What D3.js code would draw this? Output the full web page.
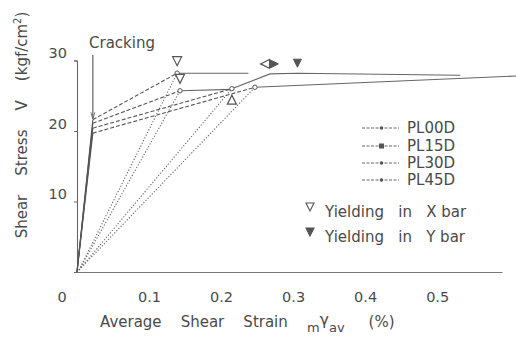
<!DOCTYPE html>
<html>
<head>
<meta charset="utf-8">
<script src="https://cdn.jsdelivr.net/npm/d3@7"></script>
<style>
  body { margin: 0; background: #fff; }
  svg text { font-family: "DejaVu Sans", sans-serif; fill: #4a4a4a; white-space: pre; }
</style>
</head>
<body>
<div class="graph-container"></div>
<script>
// values (strain in %, stress in kgf/cm2)
var seriesNames = ["PL00D", "PL15D", "PL30D", "PL45D"];
var strainPL00D = [0, 0.022, 0.139, 0.238];
var stressPL00D = [0, 21.6, 28.2, 28.2];
var strainPL15D = [0, 0.022, 0.143, 0.215];
var stressPL15D = [0, 21.1, 25.7, 25.9];
var strainPL30D = [0, 0.022, 0.215, 0.268, 0.306, 0.532];
var stressPL30D = [0, 20.4, 26.0, 28.1, 28.2, 27.9];
var strainPL45D = [0, 0.022, 0.247, 0.61];
var stressPL45D = [0, 19.7, 26.2, 27.8];

// yield points (secant lines from origin are drawn to these)
var yieldStrain = [0.139, 0.143, 0.215, 0.247];
var yieldStress = [28.2, 25.7, 26.0, 26.2];

// yielding symbols: X bar (open) and Y bar (filled)
var xBarStrain = [0.139, 0.143, 0.215, 0.261];
var xBarStress = [28.2, 25.7, 26.0, 28.1];
var xBarDir = ["down", "down", "up", "left"];
var yBarStrain = [0.274, 0.306];
var yBarStress = [28.1, 28.2];

var crackStrain = 0.022;
var xTicks = [0.1, 0.2, 0.3, 0.4, 0.5];
var yTicks = [10, 20, 30];

var W = 516, H = 338;

var svg = d3.select(".graph-container").append("svg")
    .attr("width", W)
    .attr("height", H);

var x = d3.scaleLinear().domain([0, 0.59]).range([77, 502]);
var y = d3.scaleLinear().domain([0, 30]).range([272, 60.5]);

svg.append("defs").append("marker")
    .attr("id", "arrow")
    .attr("viewBox", "0 0 10 10")
    .attr("refX", 9).attr("refY", 5)
    .attr("markerWidth", 6).attr("markerHeight", 9)
    .attr("orient", "auto")
  .append("path")
    .attr("d", "M0,2 L10,5 L0,8")
    .attr("fill", "none")
    .attr("stroke", "#555")
    .attr("stroke-width", 1.2);

// AXES
var yAxis = d3.axisLeft(y).tickValues(yTicks).tickSize(3).tickFormat(d => d);
var yAxisGroup = svg.append("g")
    .attr("transform", "translate(" + x(0) + ",0)")
    .call(yAxis);
yAxisGroup.select(".domain").attr("stroke", "#666").attr("stroke-width", 1.1);
yAxisGroup.selectAll("line").attr("stroke", "#666");
yAxisGroup.selectAll("text")
    .attr("x", -10).attr("dy", "-0.2em")
    .style("font-size", "14.5px")
    .style("fill", "#4a4a4a");

var xAxis = d3.axisBottom(x).tickValues(xTicks).tickSize(0).tickFormat(d3.format(".1f"));
var xAxisGroup = svg.append("g")
    .attr("transform", "translate(0," + y(0) + ")")
    .call(xAxis);
xAxisGroup.select(".domain").attr("stroke", "#777").attr("stroke-width", 1);
xAxisGroup.selectAll("text")
    .attr("y", 20)
    .style("font-size", "14.5px")
    .style("fill", "#4a4a4a");
xAxisGroup.attr("font-family", null);
yAxisGroup.attr("font-family", null);

svg.append("text")
    .attr("x", 62).attr("y", y(0) + 30)
    .attr("text-anchor", "middle")
    .style("font-size", "14.5px")
    .text("0");

// axis titles
var yTitle = svg.append("text")
    .attr("transform", "translate(27," + 125 + ") rotate(-90)")
    .attr("text-anchor", "middle")
    .style("font-size", "15px");
yTitle.append("tspan").text("Shear    Stress    V    (kgf/cm");
yTitle.append("tspan").attr("dy", -6).style("font-size", "10px").text("2");
yTitle.append("tspan").attr("dy", 6).text(")");

var xTitle = svg.append("text")
    .attr("x", 100).attr("y", 327)
    .style("font-size", "15px");
xTitle.append("tspan").text("Average    Shear    Strain    ");
xTitle.append("tspan").attr("dy", 5).style("font-size", "13px").text("m");
xTitle.append("tspan").attr("dy", -7).style("font-size", "16px").text("γ");
xTitle.append("tspan").attr("dy", 7).style("font-size", "13px").text("av");
xTitle.append("tspan").attr("dy", -5).text("     (%)");

// CURVES
var series = [
    { name: seriesNames[0], strain: strainPL00D, stress: stressPL00D },
    { name: seriesNames[1], strain: strainPL15D, stress: stressPL15D },
    { name: seriesNames[2], strain: strainPL30D, stress: stressPL30D },
    { name: seriesNames[3], strain: strainPL45D, stress: stressPL45D }
];

var line = d3.line().x(d => x(d[0])).y(d => y(d[1]));

// secant lines from origin to yield point (dotted)
svg.append("g").selectAll("line")
    .data(yieldStrain.map((s, i) => [s, yieldStress[i]]))
    .enter().append("line")
    .attr("x1", x(0) + 2).attr("y1", y(0) - 2)
    .attr("x2", d => x(d[0])).attr("y2", d => y(d[1]))
    .attr("stroke", "#666")
    .attr("stroke-width", 1.1)
    .attr("stroke-dasharray", "1.2,1.8");

series.forEach(s => {
    var pts = s.strain.map((v, i) => [v, s.stress[i]]);
    // elastic part: solid
    svg.append("path")
        .attr("d", line(pts.slice(0, 2)))
        .attr("fill", "none")
        .attr("stroke", "#555")
        .attr("stroke-width", 1.1);
    // cracking to yield: dashed
    svg.append("path")
        .attr("d", line(pts.slice(1, 3)))
        .attr("fill", "none")
        .attr("stroke", "#555")
        .attr("stroke-width", 1.1)
        .attr("stroke-dasharray", "4,2");
    // after yield
    svg.append("path")
        .attr("d", line(pts.slice(2)))
        .attr("fill", "none")
        .attr("stroke", "#666")
        .attr("stroke-width", 1.1);
    svg.append("g").selectAll("circle")
        .data(pts.slice(2, 3))
        .enter().append("circle")
        .attr("cx", d => x(d[0])).attr("cy", d => y(d[1]))
        .attr("r", 2.2)
        .attr("fill", "#fff")
        .attr("stroke", "#555")
        .attr("stroke-width", 1);
});

// yielding symbols
function tri(dir, cx, cy, s) {
    if (dir == "down") return "M" + (cx - s) + "," + (cy - s) + "L" + (cx + s) + "," + (cy - s) + "L" + cx + "," + (cy + s) + "Z";
    if (dir == "up") return "M" + (cx - s) + "," + (cy + s) + "L" + (cx + s) + "," + (cy + s) + "L" + cx + "," + (cy - s) + "Z";
    if (dir == "left") return "M" + (cx + s) + "," + (cy - s) + "L" + (cx + s) + "," + (cy + s) + "L" + (cx - s) + "," + cy + "Z";
    return "M" + (cx - s) + "," + (cy - s) + "L" + (cx - s) + "," + (cy + s) + "L" + (cx + s) + "," + cy + "Z";
}
var xOff = { down: [0, -12], up: [0, 11], left: [0, -10] };
svg.append("g").selectAll("path")
    .data(xBarStrain.map((s, i) => [s, xBarStress[i], xBarDir[i]]))
    .enter().append("path")
    .attr("d", d => tri(d[2], x(d[0]) + xOff[d[2]][0], y(d[1]) + xOff[d[2]][1], 4.5))
    .attr("fill", "#fff")
    .attr("stroke", "#555")
    .attr("stroke-width", 1.2);

svg.append("g").selectAll("path")
    .data(yBarStrain.map((s, i) => [s, yBarStress[i]]))
    .enter().append("path")
    .attr("d", (d, i) => i == 0 ? tri("right", x(d[0]), y(d[1]) - 10, 4)
                                  : tri("down", x(d[0]), y(d[1]) - 10, 4))
    .attr("fill", "#555")
    .attr("stroke", "#555")
    .attr("stroke-width", 1);

// cracking annotation
svg.append("text")
    .attr("x", 89).attr("y", 48)
    .style("font-size", "15px")
    .text("Cracking");
svg.append("line")
    .attr("x1", x(crackStrain)).attr("y1", 55)
    .attr("x2", x(crackStrain)).attr("y2", y(21.8))
    .attr("stroke", "#555")
    .attr("stroke-width", 1.1)
    .attr("marker-end", "url(#arrow)");

// LEGEND
var legend = svg.append("g").attr("transform", "translate(362,0)");
var legendY = [133, 151, 168, 185];
seriesNames.forEach((name, i) => {
    legend.append("line")
        .attr("x1", 0).attr("x2", 37)
        .attr("y1", legendY[i] - 5).attr("y2", legendY[i] - 5)
        .attr("stroke", "#666")
        .attr("stroke-width", 1)
        .attr("stroke-dasharray", "3,1.5");
    if (i == 1) {
        legend.append("rect")
            .attr("x", 17).attr("y", legendY[i] - 7.5)
            .attr("width", 5).attr("height", 5)
            .attr("fill", "#555");
    } else {
        legend.append("circle")
            .attr("cx", 19.5).attr("cy", legendY[i] - 5)
            .attr("r", 1.8)
            .attr("fill", "#555");
    }
    legend.append("text")
        .attr("x", 45).attr("y", legendY[i])
        .style("font-size", "15px")
        .text(name);
});

svg.append("path")
    .attr("d", tri("down", 310, 207, 4))
    .attr("fill", "#fff").attr("stroke", "#555").attr("stroke-width", 1.1);
svg.append("text")
    .attr("x", 325).attr("y", 217)
    .style("font-size", "15px")
    .text("Yielding   in   X bar");
svg.append("path")
    .attr("d", tri("down", 310, 232, 4))
    .attr("fill", "#555").attr("stroke", "#555").attr("stroke-width", 1.1);
svg.append("text")
    .attr("x", 325).attr("y", 242)
    .style("font-size", "15px")
    .text("Yielding   in   Y bar");
</script>
</body>
</html>
